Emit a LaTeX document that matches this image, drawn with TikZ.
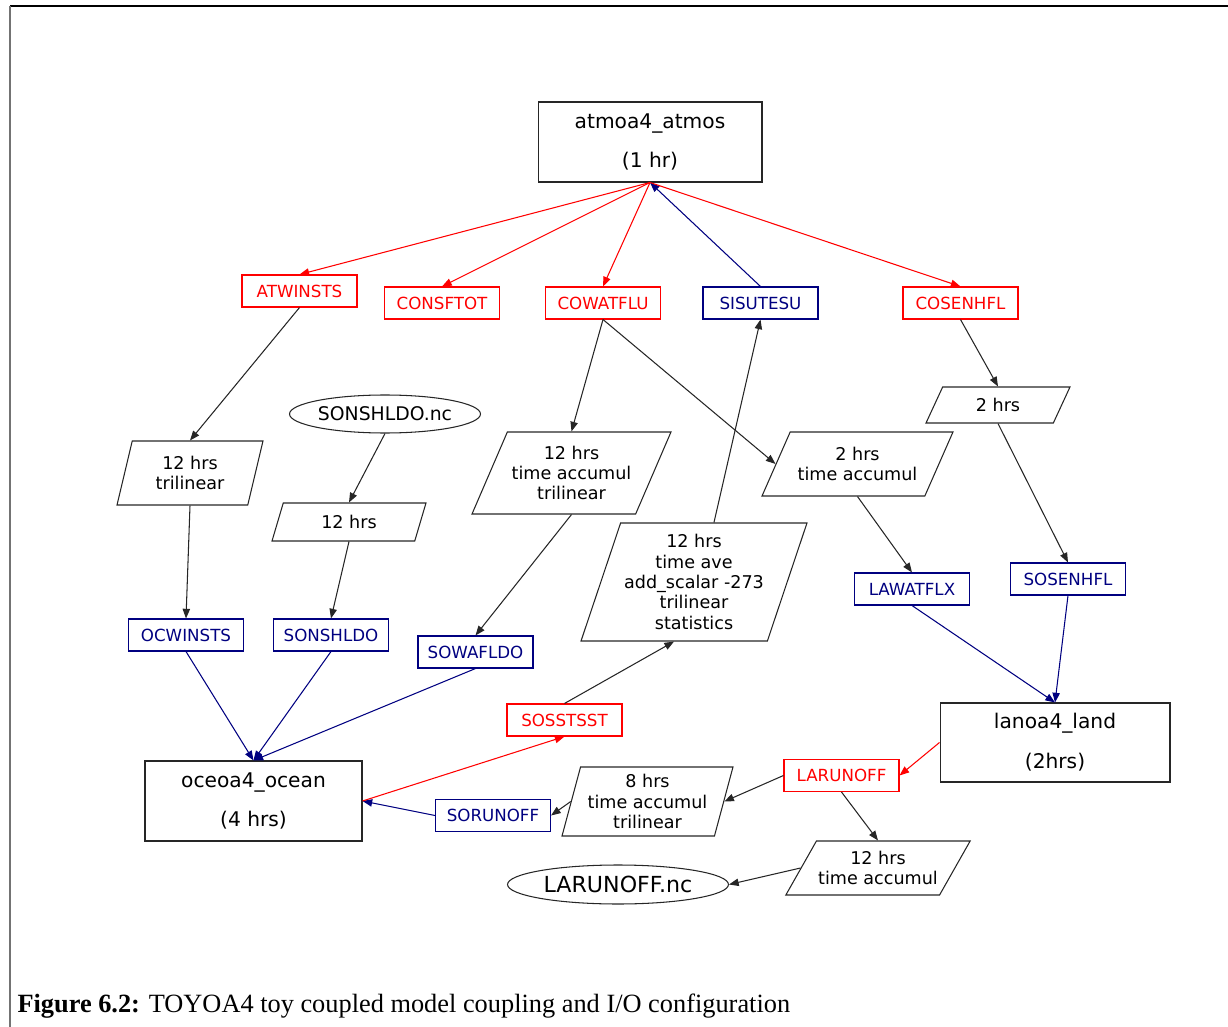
\documentclass[tikz,border=0pt]{standalone}
\usepackage{fontspec}
\setmainfont{Liberation Serif}
\newfontfamily\diafont{DejaVu Sans}
\usepackage{tikz}
\usetikzlibrary{shapes.geometric,arrows.meta,calc,positioning}
\definecolor{navy}{RGB}{0,0,128}

\begin{document}
\begin{tikzpicture}[x=0.02cm,y=-0.02cm,>={Triangle[length=5.5pt,width=4.2pt]},line width=0.6pt]
    \tikzstyle{model}=[rectangle,draw=black!85,minimum width=4.4cm,minimum height=1.6cm,align=center,font=\diafont\fontsize{11.5}{22.7}\selectfont];
    \tikzstyle{field}=[rectangle,draw,minimum width=2.3cm,minimum height=0.64cm,inner sep=0pt,font=\diafont\fontsize{9.5}{11}\selectfont];
    \tikzstyle{out field}=[field,red];
    \tikzstyle{in field}=[field,navy];
    \tikzstyle{transf}=[trapezium,draw=black!85,trapezium stretches body,align=center,inner sep=1pt,font=\diafont\fontsize{10}{11.6}\selectfont];
    \tikzstyle{file}=[ellipse,draw=black!85,inner sep=0pt,font=\diafont];
    \tikzstyle{put}=[->,red];
    \tikzstyle{get}=[->,navy];
    \tikzstyle{flow}=[->,black!85];

    \useasboundingbox (0,0) rectangle (1228,1027);

    % Frame of the figure
    \draw[line width=1.1pt] (10,6) -- (1228,6);
    \draw[black!55,line width=0.9pt] (10,6) -- (10,1027);

    % Draw the model nodes
    \node[model,minimum width=4.48cm] (atmos) at (650,142) {atmoa4\_atmos\\(1 hr)};
    \node[model,minimum width=4.34cm] (ocean) at (253.5,801) {oceoa4\_ocean\\(4 hrs)};
    \node[model,minimum width=4.6cm,minimum height=1.58cm] (land) at (1055,742.5) {lanoa4\_land\\(2hrs)};

    % Draw the coupling fields
    \node[out field] (ATWINSTS) at (299.5,291) {ATWINSTS};
    \node[out field] (CONSFTOT) at (442,303) {CONSFTOT};
    \node[out field] (COWATFLU) at (603,303) {COWATFLU};
    \node[in field] (SISUTESU) at (760.5,303) {SISUTESU};
    \node[out field] (COSENHFL) at (960.5,303) {COSENHFL};
    \node[in field] (OCWINSTS) at (186,635) {OCWINSTS};
    \node[in field] (SONSHLDO) at (331,635) {SONSHLDO};
    \node[in field] (SOWAFLDO) at (475.5,652) {SOWAFLDO};
    \node[in field] (LAWATFLX) at (912,589) {LAWATFLX};
    \node[in field] (SOSENHFL) at (1068,579) {SOSENHFL};
    \node[out field] (SOSSTSST) at (564.5,720) {SOSSTSST};
    \node[out field] (LARUNOFF) at (841.5,775.5) {LARUNOFF};
    \node[in field] (SORUNOFF) at (493,815.5) {SORUNOFF};

    % Draw the transformations
    \node[transf,minimum width=2.92cm,minimum height=1.28cm,trapezium left angle=67.9,trapezium right angle=112.1] (T-1) at (190,473) {12 hrs\\trilinear};
    \node[transf,minimum width=3.08cm,minimum height=0.76cm,trapezium left angle=56.7,trapezium right angle=123.3] (T-2) at (349,522) {12 hrs};
    \node[transf,minimum width=3.98cm,minimum height=1.64cm,trapezium left angle=58.6,trapezium right angle=121.4] (T-3) at (571.5,473) {12 hrs\\time accumul\\trilinear};
    \node[transf,minimum width=3.82cm,minimum height=1.28cm,trapezium left angle=53.1,trapezium right angle=126.9] (T-4) at (857.5,464) {2 hrs\\time accumul};
    \node[transf,minimum width=4.52cm,minimum height=2.36cm,inner ysep=-2pt,trapezium left angle=65.8,trapezium right angle=114.2] (T-5) at (694,582) {12 hrs\\time ave\\add\_scalar -273\\trilinear\\statistics};
    \node[transf,minimum width=2.88cm,minimum height=0.72cm,trapezium left angle=45.8,trapezium right angle=134.2] (T-6) at (998,405) {2 hrs};
    \node[transf,minimum width=3.42cm,minimum height=1.38cm,inner xsep=0pt,inner ysep=-7pt,trapezium left angle=58.1,trapezium right angle=121.9] (T-7) at (647.5,801.5) {8 hrs\\time accumul\\trilinear};
    \node[transf,minimum width=3.6cm,minimum height=1.08cm,trapezium left angle=50.8,trapezium right angle=129.2] (T-8) at (878,868) {12 hrs\\time accumul};

    % Draw the files
    \node[file,minimum width=3.82cm,minimum height=0.76cm,font=\diafont\fontsize{10.7}{12}\selectfont] (F-SONSHLDO) at (385,414) {SONSHLDO.nc};
    \node[file,minimum width=4.42cm,minimum height=0.78cm,font=\diafont\fontsize{12.6}{14}\selectfont] (F-LARUNOFF) at (618,884.5) {LARUNOFF.nc};

    % Fields sent and received by the atmosphere
    \draw[put] (atmos.south) -- (ATWINSTS.north);
    \draw[put] (atmos.south) -- (CONSFTOT.north);
    \draw[put] (atmos.south) -- (COWATFLU.north);
    \draw[get] (SISUTESU.north) -- (atmos.south);
    \draw[put] (atmos.south) -- (COSENHFL.north);

    % Transformations on the way
    \draw[flow] (ATWINSTS.south) -- (T-1 |- T-1.north);
    \draw[flow] (T-1 |- T-1.south) -- (OCWINSTS.north);
    \draw[flow] (F-SONSHLDO.south) -- (T-2 |- T-2.north);
    \draw[flow] (T-2 |- T-2.south) -- (SONSHLDO.north);
    \draw[flow] (COWATFLU.south) -- (T-3 |- T-3.north);
    \draw[flow] (COWATFLU.south) -- (T-4.west);
    \draw[flow] (T-3 |- T-3.south) -- (SOWAFLDO.north);
    \draw[flow] (T-5.top side) -- (SISUTESU.south);
    \draw[flow] (T-4 |- T-4.south) -- (LAWATFLX.north);
    \draw[flow] (COSENHFL.south) -- (T-6 |- T-6.north);
    \draw[flow] (T-6 |- T-6.south) -- (SOSENHFL.north);
    \draw[flow] (SOSSTSST.north) -- (T-5.bottom side);

    % Fields received by the ocean and the land
    \draw[get] (OCWINSTS.south) -- (ocean.north);
    \draw[get] (SONSHLDO.south) -- (ocean.north);
    \draw[get] (SOWAFLDO.south) -- (ocean.north);
    \draw[get] (SORUNOFF.west) -- (ocean.east);
    \draw[get] (LAWATFLX.south) -- (land.north);
    \draw[get] (SOSENHFL.south) -- (land.north);

    % Fields sent by the ocean and the land
    \draw[put] (ocean.east) -- (SOSSTSST.south);
    \draw[put] (land.west) -- (LARUNOFF.east);
    \draw[flow] (LARUNOFF.west) -- (T-7.east);
    \draw[flow] (T-7.west) -- (SORUNOFF.east);
    \draw[flow] (LARUNOFF.south) -- (T-8 |- T-8.north);
    \draw[flow] (T-8.west) -- (F-LARUNOFF.east);

    % Caption
    \node[anchor=base west,inner sep=0pt,font=\fontsize{15}{17}\selectfont] (caption) at (17,1012) {\textbf{Figure 6.2:} TOYOA4 toy coupled model coupling and I/O configuration};
\end{tikzpicture}
\end{document}
